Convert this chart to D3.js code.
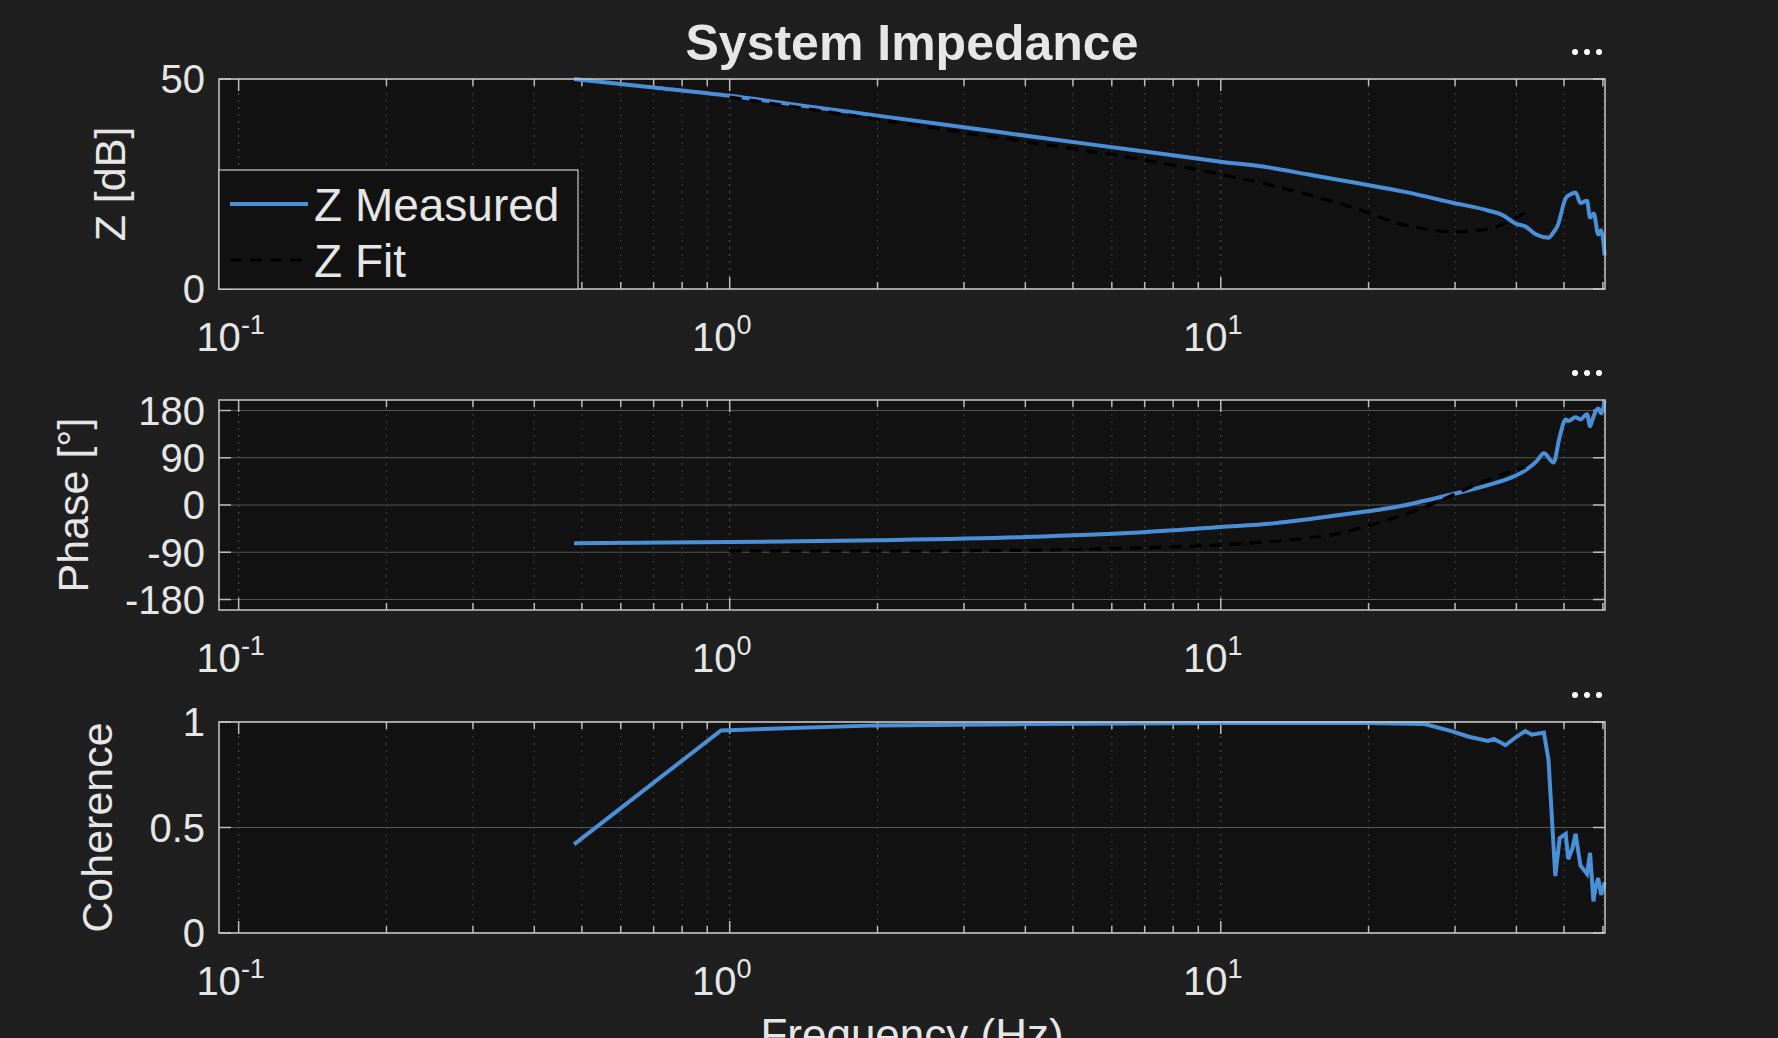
<!DOCTYPE html>
<html><head><meta charset="utf-8">
<script src="https://cdn.jsdelivr.net/npm/d3@7"></script>
<style>
body{margin:0;background:#1f1f1f;}
svg{display:block;font-family:"Liberation Sans",Arial,sans-serif;}
</style></head>
<body>
<svg id="chart"></svg>
<script>
const width = 1778, height = 1038;

// Data
const zMeasFreq = [0.482,0.7,1,1.5,2.05,3,4.5,6.63,10,12.6,15,19.2,24,29.5,35,37.5,40,41.7,44,46.5,47.6,48.5,50.4,51.5,52.8,54,55.7,56.5,57.5,58.7,59.5,60.5];
const zMeasDb   = [50,48,46,43.2,41.1,38.5,35.7,33.1,30.3,28.9,27.3,25.1,23,20.6,18.7,17.6,15.5,14.9,12.9,12.2,13.5,15,21.6,22.5,23,20.5,21,17,18,13,14,8];
const zFitFreq = [1,1.5,2.05,3,4.5,6.63,10,13,16,19.2,22,26,30,35,38,41.7];
const zFitDb   = [45.7,42.6,40.2,37.2,34.2,31.2,27.3,24.4,21.6,18.9,16.3,14.3,13.6,14.3,15.7,18.1];

const phMeasFreq = [0.482,1,2,4,6.63,10,12.8,16,19.2,23,26,29.5,35,39,41.7,44,45.5,47.6,49,50.4,51,52.8,54,55.7,56.5,57,58.7,59.5,60.5];
const phMeasDeg  = [-72.9,-70.7,-67,-61,-53,-42,-35,-24,-14,-3,8,20,38,52,66,83.6,98.6,81,130,163,160,167,163,173,150,160,184,175,199];
const phFitFreq = [1,2,4,6.63,10,14,17,19.2,23,26,29.5,35,41.7];
const phFitDeg  = [-88,-88,-86,-82,-76,-66,-56,-44,-22,-4,18,48,72];

const cohFreq = [0.482,0.96,2,4,10,20,26,29.5,32,35,36,38,40,41.7,43,45.5,46.5,48,49,50.4,51,52,52.8,54,55.7,56.5,57.4,58,58.7,59.5,60.5];
const cohVal  = [0.42,0.96,0.984,0.99,0.995,0.995,0.99,0.957,0.93,0.91,0.92,0.89,0.93,0.957,0.94,0.95,0.82,0.27,0.45,0.47,0.35,0.40,0.47,0.32,0.28,0.38,0.15,0.22,0.26,0.18,0.24];

const xTicks = [0.1, 1, 10];
const xTickExp = ["-1", "0", "1"];

const panels = [
  {top: 79, bottom: 289, domain: [0, 50], ticks: [0, 50], label: "Z [dB]", labelX: 125, smooth: true,
   series: [{f: zMeasFreq, v: zMeasDb, dash: null}, {f: zFitFreq, v: zFitDb, dash: "12,8"}]},
  {top: 400, bottom: 610, domain: [-200, 200], ticks: [-180, -90, 0, 90, 180], label: "Phase [°]", labelX: 88, smooth: true,
   series: [{f: phMeasFreq, v: phMeasDeg, dash: null}, {f: phFitFreq, v: phFitDeg, dash: "12,8"}]},
  {top: 722, bottom: 933, domain: [0, 1], ticks: [0, 0.5, 1], label: "Coherence", labelX: 112, smooth: false,
   series: [{f: cohFreq, v: cohVal, dash: null}]}
];

const left = 219, right = 1605;
const svg = d3.select('#chart').attr('width', width).attr('height', height);
svg.append('rect').attr('width', width).attr('height', height).attr('fill', '#1f1f1f');

const x = d3.scaleLog().domain([0.0912, 60.6]).range([left, right]);
const minor = [];
for (let d = 0.1; d < 100; d *= 10) for (let k = 1; k <= 9; k++) {
  const v = d * k;
  if (v >= 0.0912 && v <= 60.6) minor.push(v);
}

svg.append('text').attr('x', 912).attr('y', 60).attr('text-anchor', 'middle')
  .attr('fill', '#e6e6e6').attr('font-size', 50).attr('font-weight', 'bold').text('System Impedance');

panels.forEach((p, i) => {
  const y = d3.scaleLinear().domain(p.domain).range([p.bottom, p.top]);
  const g = svg.append('g');
  g.append('rect').attr('x', left).attr('y', p.top).attr('width', right - left)
    .attr('height', p.bottom - p.top).attr('fill', '#121212');

  // vertical dotted grid
  g.selectAll('.vg').data(minor).enter().append('line')
    .attr('x1', d => x(d)).attr('x2', d => x(d)).attr('y1', p.top).attr('y2', p.bottom)
    .attr('stroke', d => xTicks.includes(d) ? '#5a5a5a' : '#444').attr('stroke-dasharray', '2,5');
  // horizontal grid
  g.selectAll('.hg').data(p.ticks).enter().append('line')
    .attr('x1', left).attr('x2', right).attr('y1', d => y(d)).attr('y2', d => y(d))
    .attr('stroke', '#555').attr('stroke-width', 1.2);

  // inner ticks
  g.selectAll('.mt').data(minor).enter().append('path')
    .attr('d', d => {
      const len = xTicks.includes(d) ? 12 : 7;
      return `M${x(d)},${p.bottom}v${-len}M${x(d)},${p.top}v${len}`;
    }).attr('stroke', '#bbb').attr('stroke-width', 1.5);
  g.selectAll('.yt').data(p.ticks).enter().append('path')
    .attr('d', d => `M${left},${y(d)}h12M${right},${y(d)}h-12`)
    .attr('stroke', '#bbb').attr('stroke-width', 1.5);

  // data lines
  p.series.forEach(s => {
    const pts = s.f.map((f, j) => [f, s.v[j]]);
    g.append('path').datum(pts)
      .attr('d', d3.line().curve(p.smooth ? d3.curveMonotoneX : d3.curveLinear)
        .x(d => x(d[0])).y(d => y(Math.max(p.domain[0], Math.min(p.domain[1], d[1])))))
      .attr('fill', 'none')
      .attr('stroke', s.dash ? '#000' : '#4a90d9')
      .attr('stroke-width', s.dash ? 3.2 : 4)
      .attr('stroke-dasharray', s.dash);
  });

  g.append('rect').attr('x', left).attr('y', p.top).attr('width', right - left)
    .attr('height', p.bottom - p.top).attr('fill', 'none').attr('stroke', '#c8c8c8').attr('stroke-width', 1.5);

  // y tick labels
  g.selectAll('.yl').data(p.ticks).enter().append('text')
    .attr('x', left - 14).attr('y', d => y(d)).attr('dy', '0.36em').attr('text-anchor', 'end')
    .attr('fill', '#e6e6e6').attr('font-size', 40).text(d => d);

  // x tick labels 10^n
  xTicks.forEach((t, k) => {
    const tx = g.append('text').attr('x', x(t) - 8).attr('y', p.bottom + 62)
      .attr('text-anchor', 'middle').attr('fill', '#e6e6e6').attr('font-size', 40);
    tx.append('tspan').text('10');
    tx.append('tspan').attr('dy', -17).attr('font-size', 27).text(xTickExp[k]);
  });

  // y label
  g.append('text').attr('transform', `translate(${p.labelX},${(p.top + p.bottom) / 2}) rotate(-90)`)
    .attr('text-anchor', 'middle').attr('fill', '#e6e6e6').attr('font-size', 43).text(p.label);

  // toolbar dots
  [0, 12, 24].forEach(dx => g.append('circle').attr('cx', 1575 + dx).attr('cy', p.top - 27)
    .attr('r', 3).attr('fill', '#fff'));

  if (i === 0) {
    const lg = g.append('g');
    lg.append('rect').attr('x', left).attr('y', 170).attr('width', 359).attr('height', 119)
      .attr('fill', '#121212').attr('stroke', '#c8c8c8').attr('stroke-width', 1.2);
    const items = [{n: 'Z Measured', c: '#4a90d9', dash: null, w: 4}, {n: 'Z Fit', c: '#000', dash: '12,8', w: 3.2}];
    items.forEach((it, k) => {
      const yy = 204 + k * 56;
      lg.append('line').attr('x1', 230).attr('x2', 308).attr('y1', yy).attr('y2', yy)
        .attr('stroke', it.c).attr('stroke-width', it.w).attr('stroke-dasharray', it.dash);
      lg.append('text').attr('x', 314).attr('y', yy).attr('dy', '0.36em')
        .attr('fill', '#e6e6e6').attr('font-size', 46).text(it.n);
    });
  }
});

svg.append('text').attr('x', 912).attr('y', 1050).attr('text-anchor', 'middle')
  .attr('fill', '#e6e6e6').attr('font-size', 44).text('Frequency (Hz)');
</script>
</body></html>
